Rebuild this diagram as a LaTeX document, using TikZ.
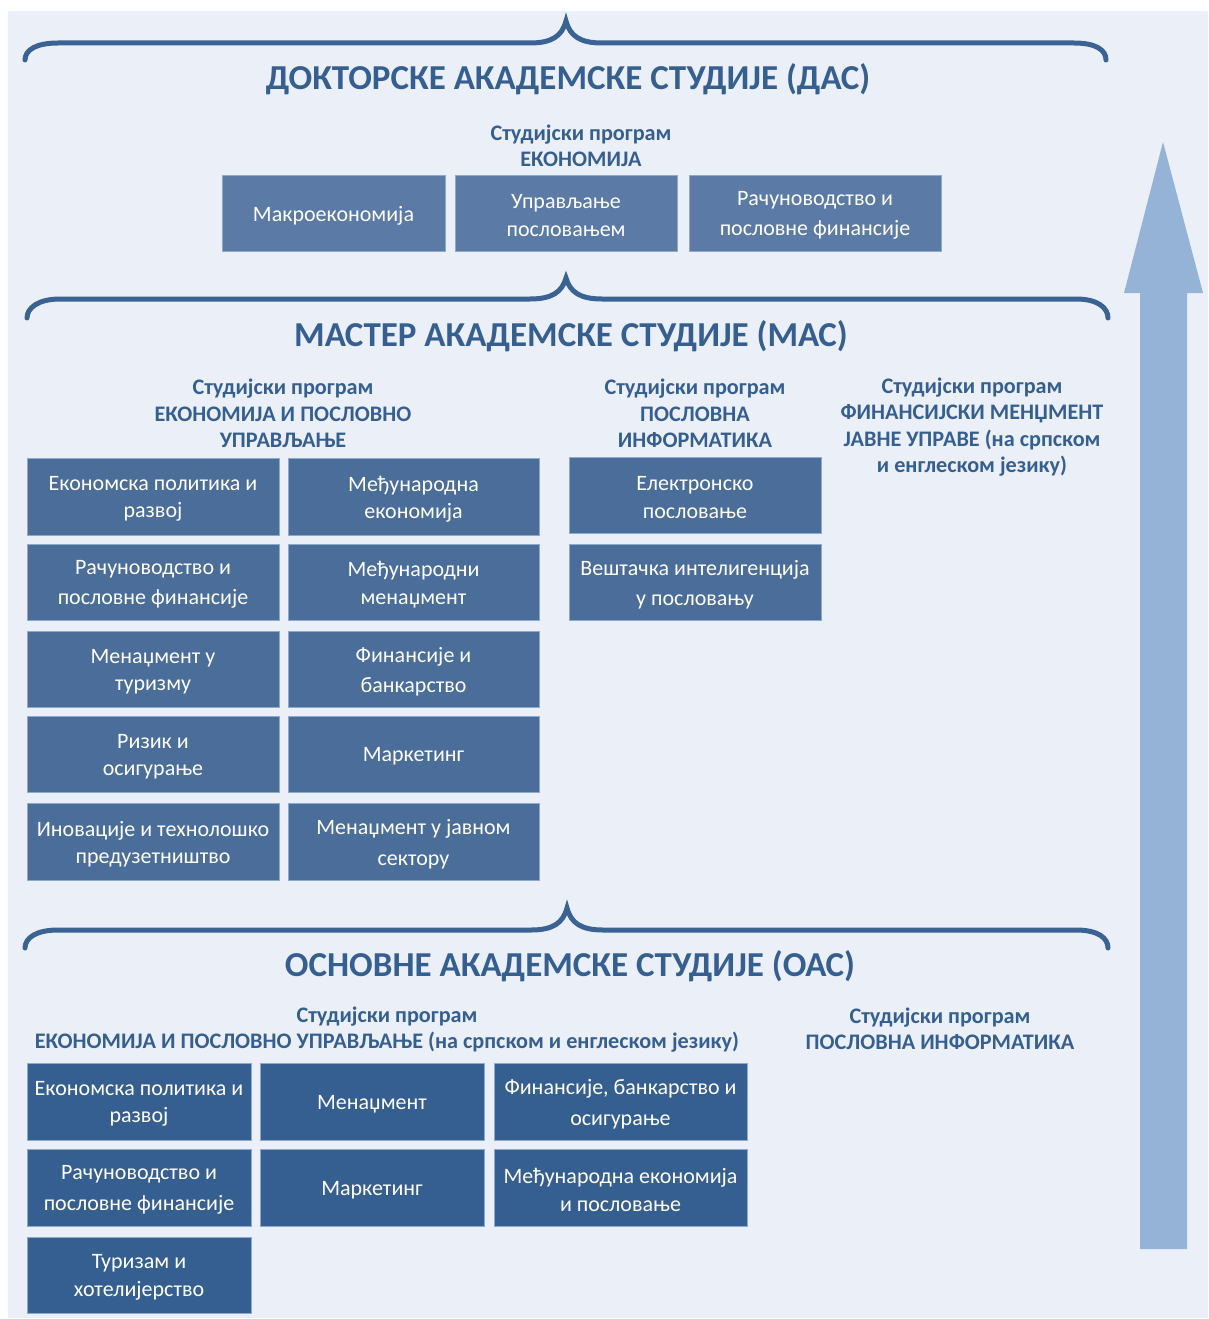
\documentclass[tikz,border=0pt]{standalone}
\usepackage{fontspec}
\setmainfont{Carlito}
\definecolor{bgc}{HTML}{EBF0F8}
\definecolor{hdc}{HTML}{365F91}
\definecolor{brc}{HTML}{3A6394}
\definecolor{dasc}{HTML}{5B7BA6}
\definecolor{masc}{HTML}{4A6D9A}
\definecolor{oasc}{HTML}{365F91}
\definecolor{boxl}{HTML}{8EA9CE}
\definecolor{arc}{HTML}{95B3D7}
\tikzset{
  bracepath/.style={draw=brc,line width=5pt,line cap=round},
  title/.style={text=hdc,font=\fontsize{35}{38}\selectfont\bfseries,inner sep=0pt},
  subhead/.style={text=hdc,font=\fontsize{22.2}{26.5}\selectfont\bfseries,align=center,inner sep=0pt},
  cellbox/.style={draw=boxl,line width=0.8pt,inner sep=0pt},
  celltext/.style={text=white,align=center,inner sep=0pt,font=\fontsize{22}{27.5}\selectfont},
}
\newcommand{\cell}[7]{\node[cellbox,fill=#6,minimum width=#4pt,minimum height=#5pt] (#1) at (#2,#3) {};
  \node[celltext] (#1t) at ([yshift=-2.5pt]#1.center) {#7};}
\begin{document}
\begin{tikzpicture}[x=1pt,y=-1pt]
\useasboundingbox (0,0) rectangle (1208,1319);
\fill[bgc] (8,11) rectangle (1208,1318);
% arrow
\fill[arc] (1140,1249) -- (1140,293) -- (1124,293) -- (1163,142) -- (1203,293) -- (1187,293) -- (1187,1249) -- cycle;
% braces
\draw[bracepath] (25,60) .. controls (25,50) and (36,43) .. (58,43) -- (530,43) .. controls (552,43) and (562,36) .. (566,21) .. controls (570,36) and (580,43) .. (602,43) -- (1074,43) .. controls (1096,43) and (1106,50) .. (1106,60);
\draw[bracepath] (27,318) .. controls (27,308) and (38,299) .. (60,299) -- (530,299) .. controls (552,299) and (562,292) .. (566,278) .. controls (570,292) and (580,299) .. (602,299) -- (1076,299) .. controls (1098,299) and (1108,308) .. (1108,318);
\draw[bracepath] (25,948) .. controls (25,938) and (36,930) .. (58,930) -- (531,930) .. controls (553,930) and (563,923) .. (567,908) .. controls (571,923) and (581,930) .. (603,930) -- (1076,930) .. controls (1098,930) and (1108,938) .. (1108,948);
% titles
\node[title] (tdas) at (568,79) {ДОКТОРСКЕ АКАДЕМСКЕ СТУДИЈЕ (ДАС)};
\node[title] (tmas) at (571,336) {МАСТЕР АКАДЕМСКЕ СТУДИЈЕ (МАС)};
\node[title] (toas) at (570,966) {ОСНОВНЕ АКАДЕМСКЕ СТУДИЈЕ (ОАС)};
% DAS
\node[subhead] (sdas) at (581,146) {Студијски програм\\ЕКОНОМИЈА};
\cell{d1}{333.5}{213}{223}{76}{dasc}{Макроекономија}
\cell{d2}{566}{213}{222}{76}{dasc}{Управљање\\пословањем}
\cell{d3}{815}{213}{252}{76}{dasc}{Рачуноводство и\\[3pt]пословне финансије}
% MAS headings
\node[subhead] (sm1) at (283,413.5) {Студијски програм\\ЕКОНОМИЈА И ПОСЛОВНО\\УПРАВЉАЊЕ};
\node[subhead] (sm2) at (695,413.5) {Студијски програм\\ПОСЛОВНА\\ИНФОРМАТИКА};
\node[subhead] (sm3) at (972,427) {Студијски програм\\ФИНАНСИЈСКИ МЕНЏМЕНТ\\ЈАВНЕ УПРАВЕ (на српском\\и енглеском језику)};
% MAS boxes
\cell{m11}{153}{496.5}{252}{77}{masc}{Економска политика и\\развој}
\cell{m12}{413.5}{496.5}{251}{77}{masc}{Међународна\\економија}
\cell{m21}{153}{582}{252}{76}{masc}{Рачуноводство и\\[3pt]пословне финансије}
\cell{m22}{413.5}{582}{251}{76}{masc}{Међународни\\менаџмент}
\cell{m31}{153}{669}{252}{76}{masc}{Менаџмент у\\туризму}
\cell{m32}{413.5}{669}{251}{76}{masc}{Финансије и\\[3pt]банкарство}
\cell{m41}{153}{754}{252}{76}{masc}{Ризик и\\осигурање}
\cell{m42}{413.5}{754}{251}{76}{masc}{Маркетинг}
\cell{m51}{153}{841.5}{252}{77}{masc}{Иновације и технолошко\\предузетништво}
\cell{m52}{413.5}{841.5}{251}{77}{masc}{Менаџмент у јавном\\[3pt]сектору}
\cell{m13}{695}{495}{252}{76}{masc}{Електронско\\пословање}
\cell{m23}{695}{582}{252}{76}{masc}{Вештачка интелигенција\\[3pt]у пословању}
% OAS headings
\node[subhead] (so1) at (387,1029.5) {Студијски програм\\ЕКОНОМИЈА И ПОСЛОВНО УПРАВЉАЊЕ (на српском и енглеском језику)};
\node[subhead] (so2) at (940,1029) {Студијски програм\\ПОСЛОВНА ИНФОРМАТИКА};
% OAS boxes
\cell{o11}{139}{1101.5}{224}{77}{oasc}{Економска политика и\\развој}
\cell{o12}{372}{1101.5}{224}{77}{oasc}{Менаџмент}
\cell{o13}{620.5}{1101.5}{253}{77}{oasc}{Финансије, банкарство и\\[3pt]осигурање}
\cell{o21}{139}{1187.5}{224}{77}{oasc}{Рачуноводство и\\[3pt]пословне финансије}
\cell{o22}{372}{1187.5}{224}{77}{oasc}{Маркетинг}
\cell{o23}{620.5}{1187.5}{253}{77}{oasc}{Међународна економија\\и пословање}
\cell{o31}{139}{1275}{224}{76}{oasc}{Туризам и\\хотелијерство}
\end{tikzpicture}
\end{document}
